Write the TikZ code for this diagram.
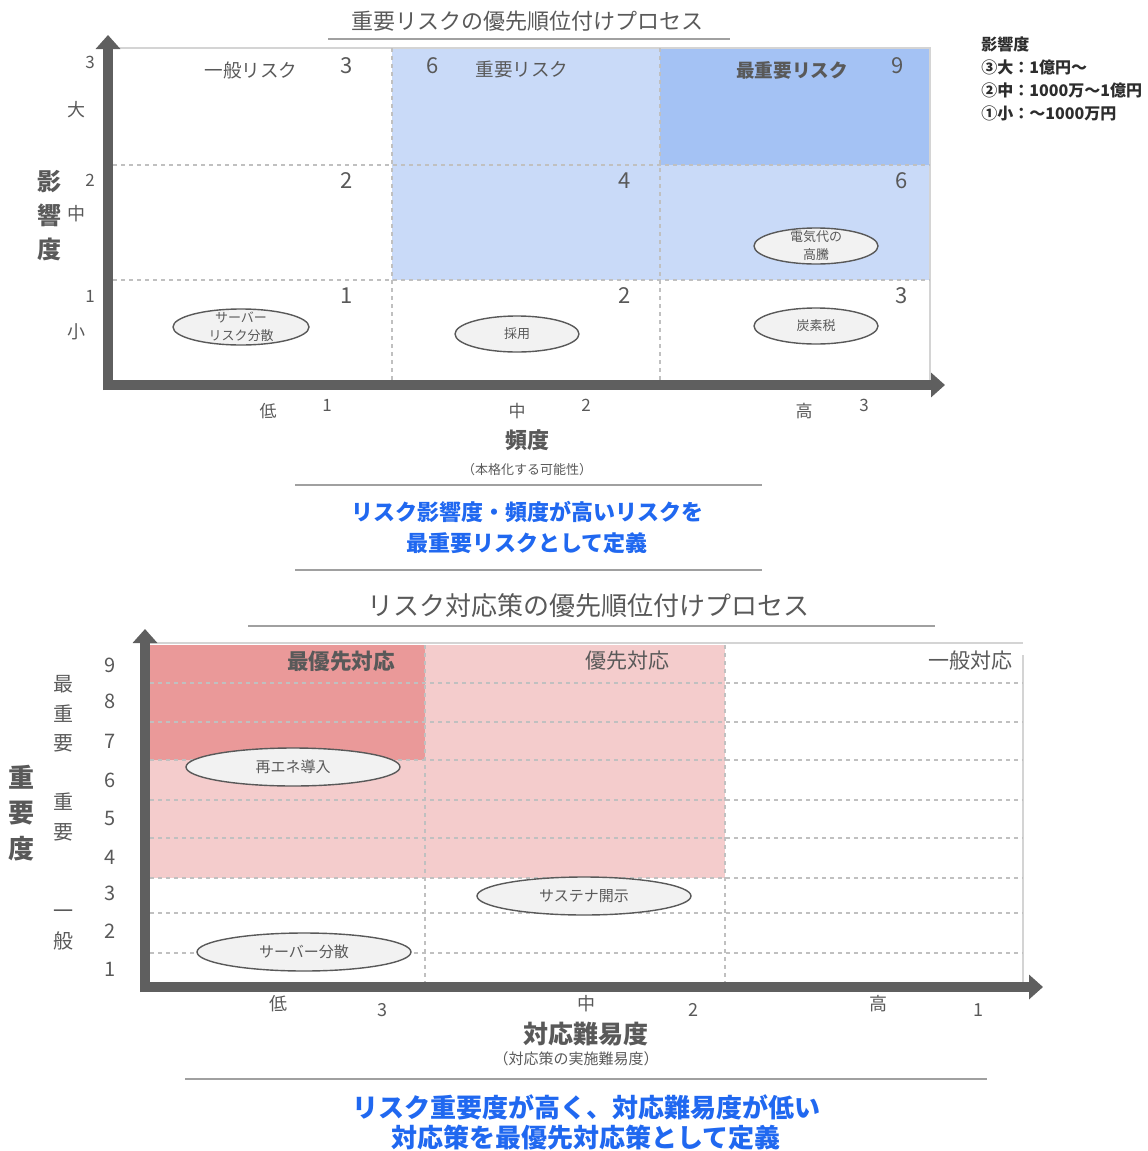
\documentclass[tikz,border=0pt]{standalone}
\usepackage{fontspec}
\setmainfont{Noto Sans CJK JP}
\usepackage{tikz}
\usetikzlibrary{arrows.meta, positioning, shapes.geometric}
\usepackage{xcolor}
\definecolor{AxisGray}{RGB}{95, 95, 95}
\definecolor{TextGray}{RGB}{89, 89, 89}
\definecolor{GridGray}{RGB}{192, 192, 192}
\definecolor{EdgeGray}{RGB}{212, 212, 212}
\definecolor{RuleGray}{RGB}{160, 160, 160}
\definecolor{LiteBlue}{RGB}{201, 218, 248}
\definecolor{MidBlue}{RGB}{164, 194, 244}
\definecolor{LitePink}{RGB}{244, 204, 204}
\definecolor{MidPink}{RGB}{234, 153, 153}
\definecolor{NoteBlue}{RGB}{32, 104, 240}
\definecolor{BubbleGray}{RGB}{242, 242, 242}
\definecolor{NoteBlack}{RGB}{45, 45, 45}
\tikzset{%
  axis_arrow/.style={%
    draw=AxisGray,%
    line width=5pt,%
    -{Triangle[length=7pt, width=12pt]}%
  },
  grid_path/.style={%
    draw=GridGray,%
    line width=0.6pt,%
    dash pattern=on 2pt off 2pt%
  },
  edge_path/.style={%
    draw=EdgeGray,%
    line width=0.7pt%
  },
  rule_path/.style={%
    draw=RuleGray,%
    line width=1.1pt%
  },
  annotate/.style={%
    text=TextGray,%
    inner sep=0pt,%
    align=center,%
  },
  cell_label/.style={%
    annotate,%
    font={\fontsize{9.3}{11}\selectfont}%
  },
  cell_score/.style={%
    annotate,%
    font={\fontsize{11}{13}\selectfont}%
  },
  tick_label/.style={%
    annotate,%
    font={\fontsize{8.5}{10}\selectfont}%
  },
  risk_bubble/.style={%
    ellipse,%
    draw=TextGray,%
    fill=BubbleGray,%
    line width=0.7pt,%
    inner sep=0pt,%
  },
  bubble_text/.style={%
    annotate,%
    font={\fontsize{6.5}{9}\selectfont}%
  },
  note/.style={%
    text=NoteBlue,%
    inner sep=0pt,%
    align=center,%
  },
}

\begin{document}
\begin{tikzpicture}[x=0.5pt, y=-0.5pt]

    \useasboundingbox (0, 0) rectangle (1147, 1151);

    % ---- upper chart: risk priority
    \node [annotate, font={\fontsize{11}{13}\selectfont}] (top_title) at (527, 21)
      {重要リスクの優先順位付けプロセス};
    \coordinate (top_title_l) at (328, 39);
    \coordinate (top_title_r) at (730, 39);
    \draw [rule_path] (top_title_l) -- (top_title_r);

    \fill [LiteBlue] (392, 48) rectangle (930, 280);
    \fill [MidBlue] (660, 48) rectangle (930, 165);

    \coordinate (top_nw) at (113, 48);
    \coordinate (top_ne) at (930, 48);
    \coordinate (top_se) at (930, 380);
    \draw [edge_path] (top_nw) -- (top_ne) -- (top_se);

    \coordinate (top_c1_n) at (392, 48);
    \coordinate (top_c1_s) at (392, 380);
    \coordinate (top_c2_n) at (660, 48);
    \coordinate (top_c2_s) at (660, 380);
    \coordinate (top_r1_w) at (113, 165);
    \coordinate (top_r1_e) at (930, 165);
    \coordinate (top_r2_w) at (113, 280);
    \coordinate (top_r2_e) at (930, 280);
    \draw [grid_path] (top_c1_n) -- (top_c1_s);
    \draw [grid_path] (top_c2_n) -- (top_c2_s);
    \draw [grid_path] (top_r1_w) -- (top_r1_e);
    \draw [grid_path] (top_r2_w) -- (top_r2_e);

    \coordinate (top_y_from) at (108, 390);
    \coordinate (top_y_to) at (108, 35);
    \coordinate (top_x_from) at (103, 385);
    \coordinate (top_x_to) at (945, 385);
    \draw [axis_arrow] (top_y_from) -- (top_y_to);
    \draw [axis_arrow] (top_x_from) -- (top_x_to);

    \node [cell_label] (general_risk) at (251, 70) {一般リスク};
    \node [cell_label] (key_risk) at (522, 70) {重要リスク};
    \node [cell_label, font={\bfseries\fontsize{9.3}{11}\selectfont}] (top_risk)
      at (792, 70) {最重要リスク};
    \node [cell_score] (s13) at (347, 66) {3};
    \node [cell_score] (s23) at (433, 66) {6};
    \node [cell_score] (s33) at (898, 66) {9};
    \node [cell_score] (s12) at (347, 181) {2};
    \node [cell_score] (s22) at (625, 181) {4};
    \node [cell_score] (s32) at (902, 181) {6};
    \node [cell_score] (s11) at (347, 296) {1};
    \node [cell_score] (s21) at (625, 296) {2};
    \node [cell_score] (s31) at (902, 296) {3};

    \node [risk_bubble, minimum width=68pt, minimum height=18pt] (server_risk)
      at (241, 327) {};
    \node [bubble_text] at (server_risk) {サーバー\\リスク分散};
    \node [risk_bubble, minimum width=62pt, minimum height=18pt] (hiring)
      at (517, 334) {};
    \node [bubble_text] at (hiring) {採用};
    \node [risk_bubble, minimum width=62pt, minimum height=18pt] (power_cost)
      at (816, 246) {};
    \node [bubble_text] at (power_cost) {電気代の\\高騰};
    \node [risk_bubble, minimum width=62pt, minimum height=18pt] (carbon_tax)
      at (816, 326) {};
    \node [bubble_text] at (carbon_tax) {炭素税};

    \node [tick_label] (impact_3) at (90, 62) {3};
    \node [tick_label, font={\fontsize{9}{10}\selectfont}] (impact_big) at (76, 110) {大};
    \node [tick_label] (impact_2) at (90, 180) {2};
    \node [tick_label, font={\fontsize{9}{10}\selectfont}] (impact_mid) at (76, 214) {中};
    \node [tick_label] (impact_1) at (90, 296) {1};
    \node [tick_label, font={\fontsize{9}{10}\selectfont}] (impact_low) at (76, 332) {小};
    \node [annotate, font={\bfseries\fontsize{12}{17}\selectfont}] (impact_axis)
      at (50, 216) {影\\響\\度};

    \node [tick_label] (freq_low) at (268, 411) {低};
    \node [tick_label] (freq_1) at (327, 405) {1};
    \node [tick_label] (freq_mid) at (517, 411) {中};
    \node [tick_label] (freq_2) at (586, 405) {2};
    \node [tick_label] (freq_high) at (804, 411) {高};
    \node [tick_label] (freq_3) at (864, 405) {3};
    \node [annotate, font={\bfseries\fontsize{11}{13}\selectfont}] (freq_axis)
      at (527, 440) {頻度};
    \node [annotate, font={\fontsize{6.5}{8}\selectfont}, below = 6pt of freq_axis]
      (freq_note) {（本格化する可能性）};

    \coordinate (top_note_l1) at (295, 485);
    \coordinate (top_note_r1) at (762, 485);
    \coordinate (top_note_l2) at (295, 570);
    \coordinate (top_note_r2) at (762, 570);
    \draw [rule_path] (top_note_l1) -- (top_note_r1);
    \draw [rule_path] (top_note_l2) -- (top_note_r2);
    \node [note, font={\bfseries\fontsize{11}{15.5}\selectfont}] (top_note)
      at (527, 527) {リスク影響度・頻度が高いリスクを\\最重要リスクとして定義};

    \node [inner sep=0pt, anchor=north west, align=left, text=NoteBlack,
      font={\bfseries\fontsize{8}{11.5}\selectfont}] (impact_key) at (981, 36)
      {影響度\\③大：1億円〜\\②中：1000万〜1億円\\①小：〜1000万円};

    % ---- lower chart: countermeasure priority
    \node [annotate, font={\fontsize{13}{15}\selectfont}] (low_title) at (588, 606)
      {リスク対応策の優先順位付けプロセス};
    \coordinate (low_title_l) at (248, 626);
    \coordinate (low_title_r) at (935, 626);
    \draw [rule_path] (low_title_l) -- (low_title_r);

    \fill [LitePink] (150, 645) rectangle (725, 878);
    \fill [MidPink] (150, 645) rectangle (425, 760);

    \coordinate (low_nw) at (150, 643);
    \coordinate (low_ne) at (1023, 643);
    \coordinate (low_e_top) at (1023, 655);
    \coordinate (low_se) at (1023, 982);
    \draw [edge_path] (low_nw) -- (low_ne);
    \draw [edge_path] (low_e_top) -- (low_se);

    \coordinate (low_c1_n) at (425, 645);
    \coordinate (low_c1_s) at (425, 982);
    \coordinate (low_c2_n) at (725, 645);
    \coordinate (low_c2_s) at (725, 982);
    \draw [grid_path] (low_c1_n) -- (low_c1_s);
    \draw [grid_path] (low_c2_n) -- (low_c2_s);
    \coordinate (low_r8_w) at (150, 683);
    \coordinate (low_r8_e) at (1023, 683);
    \coordinate (low_r7_w) at (150, 722);
    \coordinate (low_r7_e) at (1023, 722);
    \coordinate (low_r6_w) at (150, 760);
    \coordinate (low_r6_e) at (1023, 760);
    \coordinate (low_r5_w) at (150, 800);
    \coordinate (low_r5_e) at (1023, 800);
    \coordinate (low_r4_w) at (150, 838);
    \coordinate (low_r4_e) at (1023, 838);
    \coordinate (low_r3_w) at (150, 878);
    \coordinate (low_r3_e) at (1023, 878);
    \coordinate (low_r2_w) at (150, 913);
    \coordinate (low_r2_e) at (1023, 913);
    \coordinate (low_r1_w) at (150, 953);
    \coordinate (low_r1_e) at (1023, 953);
    \draw [grid_path] (low_r8_w) -- (low_r8_e);
    \draw [grid_path] (low_r7_w) -- (low_r7_e);
    \draw [grid_path] (low_r6_w) -- (low_r6_e);
    \draw [grid_path] (low_r5_w) -- (low_r5_e);
    \draw [grid_path] (low_r4_w) -- (low_r4_e);
    \draw [grid_path] (low_r3_w) -- (low_r3_e);
    \draw [grid_path] (low_r2_w) -- (low_r2_e);
    \draw [grid_path] (low_r1_w) -- (low_r1_e);

    \coordinate (low_y_from) at (145, 992);
    \coordinate (low_y_to) at (145, 629);
    \coordinate (low_x_from) at (140, 987);
    \coordinate (low_x_to) at (1043, 987);
    \draw [axis_arrow] (low_y_from) -- (low_y_to);
    \draw [axis_arrow] (low_x_from) -- (low_x_to);

    \node [annotate, font={\bfseries\fontsize{10.8}{13}\selectfont}] (first_act)
      at (341, 661) {最優先対応};
    \node [annotate, font={\fontsize{10.5}{13}\selectfont}] (prior_act)
      at (627, 661) {優先対応};
    \node [annotate, font={\fontsize{10.5}{13}\selectfont}] (general_act)
      at (970, 661) {一般対応};

    \node [risk_bubble, minimum width=107pt, minimum height=19pt] (renewables)
      at (293, 767) {};
    \node [bubble_text, font={\fontsize{7.5}{9}\selectfont}] at (renewables) {再エネ導入};
    \node [risk_bubble, minimum width=107pt, minimum height=19pt] (sustain)
      at (584, 896) {};
    \node [bubble_text, font={\fontsize{7.5}{9}\selectfont}] at (sustain) {サステナ開示};
    \node [risk_bubble, minimum width=107pt, minimum height=19pt] (server_split)
      at (304, 952) {};
    \node [bubble_text, font={\fontsize{7.5}{9}\selectfont}] at (server_split) {サーバー分散};

    \node [tick_label, font={\fontsize{10}{12}\selectfont}] (rank_9) at (110, 665) {9};
    \node [tick_label, font={\fontsize{10}{12}\selectfont}] (rank_8) at (110, 701) {8};
    \node [tick_label, font={\fontsize{10}{12}\selectfont}] (rank_7) at (110, 741) {7};
    \node [tick_label, font={\fontsize{10}{12}\selectfont}] (rank_6) at (110, 780) {6};
    \node [tick_label, font={\fontsize{10}{12}\selectfont}] (rank_5) at (110, 818) {5};
    \node [tick_label, font={\fontsize{10}{12}\selectfont}] (rank_4) at (110, 857) {4};
    \node [tick_label, font={\fontsize{10}{12}\selectfont}] (rank_3) at (110, 893) {3};
    \node [tick_label, font={\fontsize{10}{12}\selectfont}] (rank_2) at (110, 931) {2};
    \node [tick_label, font={\fontsize{10}{12}\selectfont}] (rank_1) at (110, 969) {1};

    \node [annotate, font={\fontsize{10}{14.75}\selectfont}] (band_top) at (63, 714)
      {最\\重\\要};
    \node [annotate, font={\fontsize{10}{14.75}\selectfont}] (band_mid) at (63, 817)
      {重\\要};
    \node [annotate, font={\fontsize{10}{14.75}\selectfont}] (band_low) at (63, 930)
      {一\\般};
    \node [annotate, font={\bfseries\fontsize{13}{17.75}\selectfont}] (weight_axis)
      at (22, 813) {重\\要\\度};

    \node [tick_label, font={\fontsize{9}{10}\selectfont}] (ease_low) at (278, 1004) {低};
    \node [tick_label, font={\fontsize{9}{10}\selectfont}] (ease_3) at (382, 1010) {3};
    \node [tick_label, font={\fontsize{9}{10}\selectfont}] (ease_mid) at (586, 1004) {中};
    \node [tick_label, font={\fontsize{9}{10}\selectfont}] (ease_2) at (693, 1010) {2};
    \node [tick_label, font={\fontsize{9}{10}\selectfont}] (ease_high) at (878, 1004) {高};
    \node [tick_label, font={\fontsize{9}{10}\selectfont}] (ease_1) at (978, 1010) {1};
    \node [annotate, font={\bfseries\fontsize{12.5}{15}\selectfont}] (ease_axis)
      at (586, 1034) {対応難易度};
    \node [annotate, font={\fontsize{7.5}{9}\selectfont}] (ease_note) at (576, 1059)
      {（対応策の実施難易度）};

    \coordinate (low_note_l) at (185, 1079);
    \coordinate (low_note_r) at (987, 1079);
    \draw [rule_path] (low_note_l) -- (low_note_r);
    \node [note, font={\bfseries\fontsize{13}{15}\selectfont}] (low_note)
      at (586, 1122) {リスク重要度が高く、対応難易度が低い\\対応策を最優先対応策として定義};

  \end{tikzpicture}
\end{document}
